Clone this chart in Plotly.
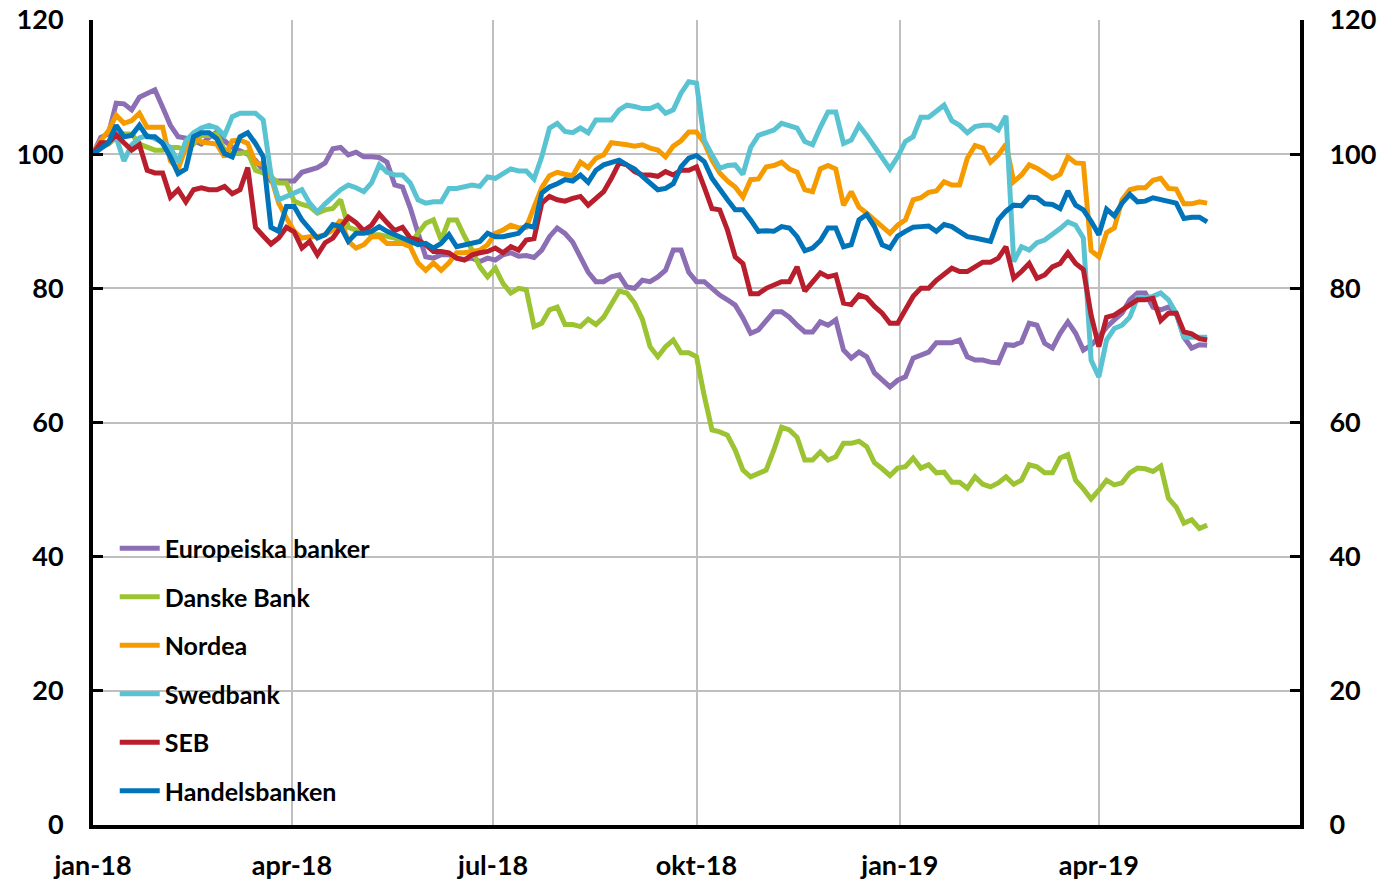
import pandas as pd
import plotly.graph_objects as go

# Observations twice a week (every 3.5 days), index 2018-01-01 = 100
dates = pd.date_range("2018-01-01", periods=145, freq="84h")

# values read at the start of each week ...
europe_wk = [100, 103, 107.5, 108.5, 109.6, 104.3, 102.4, 101.5, 103.3, 101, 100, 97.6, 96, 96, 97.6, 98.7,
             101, 100.3, 99.6, 98.8, 95.1, 88.3, 84.5, 85, 84.3, 84, 84.2, 85.3, 84.9, 85.7, 89, 86.9, 82.4,
             81, 82, 80, 81, 82.7, 85.7, 81, 80, 78.3, 75.6, 73.8, 76.5, 75.7, 73.5, 75, 75.3, 69.6, 69.8,
             66.3, 66.3, 69.6, 70.5, 71.9, 72.3, 69.3, 69, 71.6, 72, 74.5, 71.1, 75, 70.8, 72.7, 75.3, 78.3,
             79.3, 76.8, 76.3, 71.1, 71.5]
# ... and in the middle of each week
europe_mid = [102.5, 107.6, 106.6, 109, 107, 102.6, 102, 102.5, 102, 100.5, 99.1, 96, 96, 97.3, 98, 100.8,
              99.9, 99.6, 99.5, 95.4, 92, 84.7, 85, 84.5, 84.5, 84.5, 85, 84.8, 84.6, 87.7, 88.2, 84.7, 81,
              81.7, 80.2, 81.2, 81.7, 85.7, 82.4, 81, 79, 77.5, 73.3, 75.3, 76.5, 74.5, 73.5, 74.5, 70.8,
              70.5, 67.4, 65.3, 66.8, 70, 71.9, 71.9, 69.8, 69.3, 68.9, 71.5, 74.8, 71.8, 73.3, 73.3, 71.5,
              74.2, 76.3, 79.3, 77.2, 77.2, 72.7, 71.6]

danske_wk = [100, 101.5, 103, 101.5, 100.6, 101, 100.6, 102.8, 103, 100.1, 100.3, 97.2, 95.7, 93, 92.2, 91.7,
             93.2, 88.7, 88, 87.8, 87, 88.2, 90.2, 90.2, 87.8, 83.2, 83, 79.3, 79.8, 74.8, 77.2, 74.6, 75.4,
             75.7, 79.6, 77.8, 71.3, 71.3, 70.4, 69.8, 58.9, 58.1, 52.9, 52.5, 55.9, 58.9, 54.4, 55.6, 54.9,
             56.9, 56.4, 53.1, 53.2, 54.7, 53.7, 52.6, 51.1, 51.9, 50.4, 51.9, 51.4, 53.4, 52.5, 55.2, 50.1,
             49.9, 50.7, 52.5, 53.1, 53.5, 47.4, 45.5, 44.7]
danske_mid = [101, 102.5, 103, 101, 100.6, 101, 101.5, 102.8, 100.6, 100.1, 97.6, 96.6, 95.7, 92.5, 91.2,
              91.9, 89.1, 88.5, 88, 87.5, 86.5, 89.7, 87.2, 90.2, 85.7, 81.7, 80.7, 80, 74.3, 76.8, 74.6,
              74.3, 74.6, 77.8, 79.3, 75.4, 69.8, 72.3, 70.4, 64, 58.6, 55.9, 51.9, 52.9, 59.3, 57.8, 54.4,
              54.4, 56.9, 57.2, 54, 52.1, 53.4, 53.2, 52.5, 51.1, 50.2, 50.8, 51, 50.8, 53.7, 52.5, 54.7,
              51.4, 48.6, 51.4, 51, 53.2, 52.7, 48.7, 45, 44.2]

nordea_wk = [100, 103.5, 104.6, 106.1, 104, 99, 101, 101.8, 101.5, 102, 101.6, 98.5, 92.7, 88.5, 87.7, 88,
             90.2, 86, 87.7, 86.7, 86.7, 83.8, 83.8, 83.8, 85.3, 85.7, 88.2, 89.4, 89.1, 95, 97.3, 96.8, 98,
             99.9, 101.6, 101.2, 100.9, 99.6, 102, 103.3, 99.1, 96, 93.6, 96.3, 98.3, 97.8, 94.7, 97.8, 97.8,
             94.4, 91.2, 89.4, 89.4, 93.2, 94.3, 95.9, 95.4, 101.3, 98.8, 101.5, 96.9, 97.9, 96.4, 99.6, 98.6,
             84.7, 89, 94.7, 95, 96.4, 94.8, 92.6, 92.7]
nordea_mid = [102, 105.8, 105, 104, 104, 97.8, 102.6, 101.7, 99.6, 102.1, 98.7, 96.6, 90.5, 87.5, 87.7,
              88.7, 87, 86.5, 87.7, 86.7, 86.2, 82.7, 82.7, 85.3, 85.5, 86.5, 88.7, 89, 92.1, 96.8, 97,
              98.8, 99.4, 101.7, 101.4, 101.4, 100.6, 101.2, 103.3, 101.7, 97.2, 95.1, 96.2, 98.1, 98.8,
              97.3, 94.4, 98.3, 92.4, 92.1, 90.2, 88.2, 90.2, 93.5, 94.5, 95.4, 99.4, 100.9, 99.9, 95.9,
              98.4, 97.2, 97, 98.7, 85.6, 88.3, 93.2, 95, 96.1, 94.9, 92.6, 92.9]

swedbank_wk = [100, 101.8, 99, 102.4, 102.3, 101, 102, 103.9, 103.9, 105.6, 106.1, 105.1, 93.2, 94.4, 92.7,
               92.6, 94.7, 95, 95.7, 97.3, 96.9, 93.2, 92.9, 94.9, 95.2, 95.2, 96.4, 97.8, 97.5, 99.6, 104.6,
               103.2, 103.2, 105.1, 106.6, 107.1, 106.8, 106.1, 109.1, 110.6, 99.9, 98.3, 97, 102.8, 103.6,
               104.3, 101.9, 104, 106.3, 102.1, 102.8, 99.3, 99.6, 102.6, 105.5, 107.3, 104.3, 104.1, 104.3,
               105.7, 86.2, 86.8, 88, 89.9, 87.5, 66.8, 74, 75.7, 78.6, 79.3, 76.3, 72.7, 72.7]
swedbank_mid = [101.2, 102.5, 101.4, 102.8, 101.8, 98.8, 103.2, 104.3, 102.8, 106.1, 106.1, 97, 93.7, 94.7,
                91.4, 93.7, 95.4, 94.4, 98.4, 96.9, 95.7, 92.7, 92.9, 94.9, 95.4, 96.6, 97.1, 97.5, 96.3,
                103.9, 103.4, 103.9, 105.1, 105.1, 107.3, 106.8, 107.3, 106.6, 110.8, 102.1, 97.9, 98.4,
                101, 103.3, 104.6, 103.9, 101.4, 106.3, 101.6, 104.3, 101.1, 97.8, 101.9, 105.5, 106.5,
                105, 103.2, 104.3, 103.6, 84, 85.7, 87.2, 88.9, 89.4, 69.3, 72.3, 74.5, 78.6, 78.8, 78.3,
                72.7, 72.7]

seb_wk = [100, 101.7, 101.7, 101.4, 97.2, 93.6, 92.9, 95, 94.7, 94.1, 98, 87.8, 87.5, 88.4, 87, 86.8, 89.1,
          89.8, 89.4, 89.8, 89.1, 87.2, 85.5, 85.3, 84.2, 85.3, 86, 86.2, 87.2, 92.7, 93.2, 93.4, 92.4, 94.4,
          98.7, 97.4, 96.9, 97.4, 97.6, 98.1, 91.9, 88.7, 83.7, 79.2, 80.5, 81, 79.6, 82.3, 82, 77.6, 78.6,
          76.3, 74.8, 78.8, 80, 82, 82.5, 83.2, 83.9, 86.2, 82.5, 81.5, 83.2, 85.3, 82.8, 71.3, 76, 77.6,
          78.3, 75.2, 76.3, 73.2, 72.3]
seb_mid = [101.7, 102.9, 100.6, 97.6, 97.2, 94.7, 94.7, 94.7, 95.2, 94.7, 89.1, 86.6, 89.1, 86, 85, 87.5,
           90.6, 88.6, 91.1, 88.6, 87.5, 86.5, 85.5, 84.5, 85, 85.5, 85.3, 85.7, 87.4, 93.7, 93, 93.7, 93.4,
           96.4, 98.4, 96.9, 96.7, 96.9, 97.6, 95.1, 91.7, 84.7, 79.2, 80, 81, 83.2, 81, 81.7, 77.8, 79,
           77.3, 74.8, 76.8, 80, 81.2, 83, 82.5, 83.9, 84.5, 81.5, 83.7, 82, 83.7, 83.7, 76, 75.7, 76.8,
           78.3, 78.5, 76.3, 73.5, 72.5]

handels_wk = [100, 101.7, 102.6, 104.3, 102.6, 99.6, 97.8, 103.2, 102.3, 99.6, 103.2, 99.6, 88.5, 92.2, 88.7,
              88, 89.2, 88.2, 88.5, 88.5, 87.5, 86.5, 86, 88, 86.5, 87, 87.7, 87.9, 89.4, 94.2, 95.6, 96, 95.8,
              98.4, 99.1, 97.8, 95.6, 94.9, 98.1, 99.8, 96.4, 93.2, 91.7, 88.5, 88.5, 89, 85.6, 87.1, 89, 86.5,
              91, 86.5, 87.8, 89.1, 89.3, 89.5, 88.5, 87.5, 87, 91.5, 92.3, 93.5, 92.5, 94.5, 91.7, 88, 90.8,
              94, 93, 93.2, 92.7, 90.6, 89.9]
handels_mid = [100.8, 104.3, 102.8, 102.6, 101.6, 97.1, 102.6, 103.2, 100.1, 102.6, 101.6, 89.1, 92.2, 90.2,
               87.5, 89.5, 87, 88.2, 89.2, 88, 87.2, 86.7, 86.7, 86.2, 86.7, 88.2, 87.7, 88.2, 89.1, 95.1,
               96.2, 96.9, 97.6, 98.7, 98.4, 96.7, 94.7, 95.6, 99.4, 98.9, 94.7, 91.7, 90.2, 88.6, 89.2,
               87.7, 86, 89, 86.2, 90.2, 89.2, 86, 88.5, 89.2, 88.5, 89.2, 87.7, 87.2, 90.2, 92.4, 93.6,
               92.6, 91.9, 92.4, 90, 91.8, 92.7, 92.9, 93.5, 92.9, 90.4, 90.6]


def merge(wk, mid):
    """Put the week-start and mid-week readings in date order."""
    out = []
    for a, b in zip(wk, mid):
        out += [a, b]
    return out + [wk[-1]]


series_names = ["Europeiska banker", "Danske Bank", "Nordea", "Swedbank", "SEB", "Handelsbanken"]
series_values = [merge(europe_wk, europe_mid), merge(danske_wk, danske_mid), merge(nordea_wk, nordea_mid),
                 merge(swedbank_wk, swedbank_mid), merge(seb_wk, seb_mid), merge(handels_wk, handels_mid)]
colors = ["#8C6EB4", "#9BC332", "#F59B00", "#5AC3D2", "#B91E2D", "#0073B9"]

tick_dates = ["2018-01-01", "2018-04-01", "2018-07-01", "2018-10-01", "2019-01-01", "2019-04-01"]
tick_labels = ["jan-18", "apr-18", "jul-18", "okt-18", "jan-19", "apr-19"]
y_ticks = [0, 20, 40, 60, 80, 100, 120]

FONT = "Lato"

fig = go.Figure()
for i, (name, vals, col) in enumerate(zip(series_names, series_values, colors)):
    fig.add_trace(go.Scatter(x=dates, y=vals, name=name, mode="lines",
                             line=dict(color=col, width=5), legendgroup=f"g{i}"))

# invisible trace so the right-hand axis is rendered
fig.add_trace(go.Scatter(x=[dates[0]], y=[handels_wk[0]], yaxis="y2", mode="lines",
                         showlegend=False, hoverinfo="skip", opacity=0))

tick_font = dict(family=FONT, size=27, color="black", weight="bold")

fig.update_layout(
    width=1382, height=882,
    margin=dict(l=93, r=82, t=20, b=57, autoexpand=False),
    plot_bgcolor="white", paper_bgcolor="white",
    font=dict(family=FONT, color="black"),
    showlegend=True,
    legend=dict(x=0.018, y=0.372, xanchor="left", yanchor="top",
                bgcolor="rgba(0,0,0,0)", font=dict(family=FONT, size=25, color="black", weight="bold"),
                tracegroupgap=13, itemwidth=40),
    xaxis=dict(type="date", range=["2018-01-01", "2019-07-01"],
               tickvals=tick_dates, ticktext=tick_labels, tickfont=tick_font,
               showgrid=True, gridcolor="#BFBFBF", gridwidth=1.5,
               showline=True, linecolor="black", linewidth=4,
               ticks="", ticklabelstandoff=14, zeroline=False, automargin=False),
    yaxis=dict(range=[0, 120], tickvals=y_ticks, tickfont=tick_font,
               showgrid=True, gridcolor="#BFBFBF", gridwidth=1.5,
               showline=True, linecolor="black", linewidth=4,
               ticks="inside", ticklen=10, tickwidth=3, tickcolor="black",
               ticklabelstandoff=20, zeroline=False, automargin=False),
    yaxis2=dict(range=[0, 120], tickvals=y_ticks, tickfont=tick_font, overlaying="y", side="right",
                anchor="x", showgrid=False,
                showline=True, linecolor="black", linewidth=4,
                ticks="inside", ticklen=10, tickwidth=3, tickcolor="black",
                ticklabelstandoff=20, zeroline=False, automargin=False),
)

fig.write_html("out.html", config={"displayModeBar": False},
               post_script="document.body.style.margin='0';")
